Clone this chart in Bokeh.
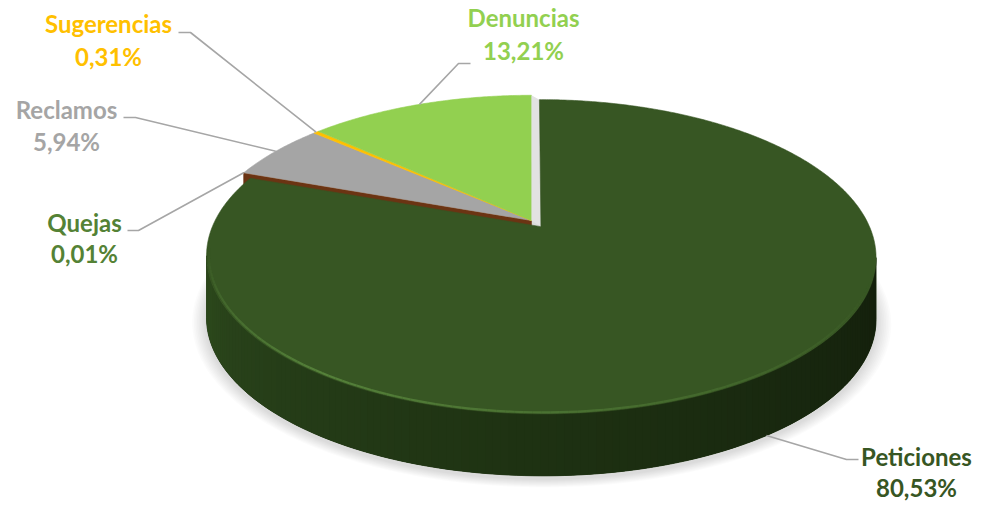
import numpy as np
from bokeh.plotting import figure
from bokeh.models import Range1d, ColumnDataSource
from bokeh.embed import file_html
from bokeh.resources import INLINE
from bokeh.core.properties import value

# ---------------- data ----------------
categories = ["Peticiones", "Quejas", "Reclamos", "Sugerencias", "Denuncias"]
percentages = [80.53, 0.01, 5.94, 0.31, 13.21]
pct_labels = ["80,53%", "0,01%", "5,94%", "0,31%", "13,21%"]
exploded = [True, False, False, False, False]

# ---------------- styles ----------------
top_colors = ["#375623", "#843c0c", "#a5a5a5", "#ffc000", "#92d050"]
label_colors = ["#375623", "#548235", "#a5a5a5", "#ffc000", "#92d050"]
FONT = "Lato"
FONT_SIZE = "24px"

# ---------------- layout (picture pixel coordinates) ----------------
W, H = 975, 504
CX, CY = 531.0, 220.0      # pie centre on screen
RX, RY, K = 326.0, 149.0, 0.19   # radii and perspective factor
DEPTH = 62.0               # thickness of the pie
EXPLODE = 0.05             # explosion distance (fraction of radius)

label_x = [916, 84, 66, 108, 523]
label_y = [456, 222, 109, 23, 17]        # anchor of name line
label_gap = [31, 31, 32, 33, 33]
leader_start = [(858, 459), (127, 230), (123, 117), (178, 32), (470, 63)]
leader_elbow = [(846, 459), (138, 230), (135, 117), (190, 32), (458, 63)]


def proj(u, v, z=0.0, grow=0.0):
    s = 1.0 / (1.0 + K * v)
    return CX + (RX + grow) * u * s, CY - (RY + grow * RY / RX) * v * s + z


vals = np.array(percentages, dtype=float)
spans = vals / vals.sum() * 360.0
ends = np.cumsum(spans)
starts = ends - spans
mids = (starts + ends) / 2.0
offs = []
for i in range(len(vals)):
    if exploded[i]:
        t = np.radians(mids[i])
        offs.append((EXPLODE * np.sin(t), EXPLODE * np.cos(t)))
    else:
        offs.append((0.0, 0.0))


def rim(theta, eu, ev, z=0.0, grow=0.0):
    t = np.radians(theta)
    return proj(eu + np.sin(t), ev + np.cos(t), z, grow)


p = figure(width=W, height=H, x_range=Range1d(0, W), y_range=Range1d(H, 0),
           output_backend="svg", toolbar_location=None, min_border=0,
           x_axis_location=None, y_axis_location=None)
p.grid.visible = False
p.outline_line_color = None
p.background_fill_color = "white"
p.border_fill_color = "white"

# ---------------- soft shadow ----------------
peu, pev = offs[0]
tt = np.linspace(0, 360, 361)
for j in range(9, 0, -1):
    sx, sy = rim(tt, peu, pev, DEPTH + 3, grow=1.6 * j)
    p.patch(list(sx), list(sy), fill_color="black", fill_alpha=0.016, line_color=None)

# ---------------- radial face of the back group exposed by explosion ----------------
a = starts[1]
cx0, cy0 = proj(0.0, 0.0)
rx0, ry0 = rim(a, 0.0, 0.0)
p.patch([cx0, rx0, rx0, cx0], [cy0, ry0, ry0 + DEPTH, cy0 + DEPTH],
        fill_color="#6b3413", line_color="#6b3413", line_width=0.5)

# ---------------- top faces of the back slices ----------------
for i in range(1, len(vals)):
    eu, ev = offs[i]
    n = max(2, int(spans[i] * 2) + 2)
    th = np.linspace(starts[i], ends[i], n)
    xs, ys = rim(th, eu, ev)
    c = proj(eu, ev)
    p.patch([c[0]] + list(xs), [c[1]] + list(ys), fill_color=top_colors[i],
            line_color=top_colors[i], line_width=0.6)

# ---------------- gap strip between Denuncias and Peticiones ----------------
bx, by = rim(360.0, 0.0, 0.0)
ex, ey = rim(0.0, peu, pev)
pc = proj(peu, pev)
p.patch([cx0, bx, ex, pc[0]], [cy0, by, ey, pc[1]], fill_color="#e2e2e2", line_color=None)

# ---------------- Peticiones side ----------------
dense = np.linspace(starts[0], ends[0], 2000)
dx, _ = rim(dense, peu, pev)
front = dense <= 180
th_r = dense[front][np.argmax(dx[front])]
th_l = dense[~front][np.argmin(dx[~front])]
th = np.linspace(th_r, th_l, 141)
xt, yt = rim(th, peu, pev)
xb, yb = rim(th, peu, pev, DEPTH)

# base side polygon (hides seams between gradient bands)
p.patch(list(xt) + list(xb[::-1]), list(yt) + list(yb[::-1]),
        fill_color="#1f3313", line_color="#1f3313", line_width=0.8)

stops_t = [th_r, 135.0, 185.0, 235.0, th_l]
stops_c = [(0x14, 0x1f, 0x0c), (0x18, 0x27, 0x0f), (0x1f, 0x33, 0x13), (0x28, 0x41, 0x1a), (0x2e, 0x4b, 0x1d)]


def grad(t):
    r = np.interp(t, stops_t, [c[0] for c in stops_c])
    g = np.interp(t, stops_t, [c[1] for c in stops_c])
    b = np.interp(t, stops_t, [c[2] for c in stops_c])
    return "#%02x%02x%02x" % (int(r), int(g), int(b))


qx, qy, qc = [], [], []
for i in range(len(th) - 1):
    j = min(i + 2, len(th) - 1)
    qx.append([xt[i], xt[j], xb[j], xb[i]])
    qy.append([yt[i], yt[j], yb[j], yb[i]])
    qc.append(grad((th[i] + th[i + 1]) / 2))
p.patches(qx, qy, fill_color=qc, line_color=None)

# ---------------- Peticiones top ----------------
th_top = np.linspace(starts[0], ends[0], 600)
xs, ys = rim(th_top, peu, pev)
p.patch([pc[0]] + list(xs), [pc[1]] + list(ys), fill_color=top_colors[0],
        line_color=top_colors[0], line_width=0.6)

# bevel highlight along the near rim
hb = np.linspace(262, 110, 120)
hx, hy = rim(hb, peu, pev, 0.0, grow=-2.5)
segx, segy, sega = [], [], []
for i in range(len(hb) - 1):
    t = (hb[i] + hb[i + 1]) / 2
    if t >= 215:
        al = 0.75 * (262 - t) / 47.0
    else:
        al = 0.75 * (t - 110) / 105.0
    segx.append([hx[i], hx[i + 1]])
    segy.append([hy[i], hy[i + 1]])
    sega.append(max(0.0, min(1.0, al)))
p.multi_line(segx, segy, line_color="#5f8f42", line_alpha=sega, line_width=2.2)

# ---------------- leader lines ----------------
for i in range(len(vals)):
    eu, ev = offs[i]
    if exploded[i]:
        ax, ay = rim(mids[i], eu, ev, DEPTH)
    else:
        ax, ay = rim(mids[i], eu, ev)
    p.line([leader_start[i][0], leader_elbow[i][0], float(ax)],
           [leader_start[i][1], leader_elbow[i][1], float(ay)],
           line_color="#a6a6a6", line_width=1.6)

# ---------------- labels ----------------
src = ColumnDataSource(dict(
    x=label_x + label_x,
    y=label_y + [label_y[i] + label_gap[i] for i in range(len(vals))],
    t=categories + pct_labels,
    c=label_colors + label_colors,
))
p.text(x="x", y="y", text="t", text_color="c", source=src,
       text_font=value(FONT), text_font_style="bold", text_font_size=FONT_SIZE,
       text_align="center", text_baseline="alphabetic")

open("out.html", "w").write(file_html(p, INLINE))
